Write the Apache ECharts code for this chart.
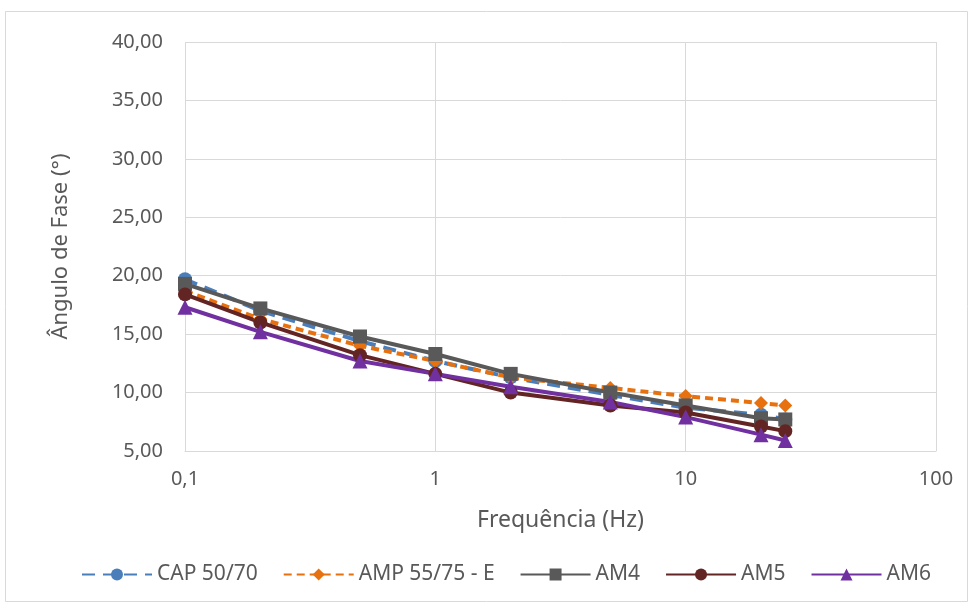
<!DOCTYPE html>
<html>
<head>
<meta charset="utf-8">
<script src="https://cdn.jsdelivr.net/npm/echarts@6/dist/echarts.min.js"></script>
<style>
  html, body { margin: 0; padding: 0; background: #fff; }
  #chart { width: 972px; height: 604px; }
</style>
</head>
<body>
<div id="chart"></div>
<script>
// Frequency sweep (Hz) and phase angle (degrees) for each binder
var frequencies = [0.1, 0.2, 0.5, 1, 2, 5, 10, 20, 25];
var cap5070   = [19.7, 17.0, 14.4, 12.7, 11.3, 9.8, 8.7, 8.1, 7.7];
var amp5575E  = [18.7, 16.3, 14.0, 12.7, 11.3, 10.4, 9.7, 9.1, 8.9];
var am4       = [19.3, 17.2, 14.8, 13.3, 11.6, 10.0, 8.9, 7.8, 7.7];
var am5       = [18.4, 16.0, 13.2, 11.6, 10.0, 8.9, 8.3, 7.1, 6.7];
var am6       = [17.3, 15.2, 12.7, 11.6, 10.5, 9.2, 7.9, 6.4, 5.9];
var seriesNames = ['CAP 50/70', 'AMP 55/75 - E', 'AM4', 'AM5', 'AM6'];

var FONT = "'Noto Sans', 'Open Sans', sans-serif";
var TXT = '#595959';

function pairs(vals) {
  return frequencies.map(function (f, i) { return [f, vals[i]]; });
}

function makeSeries(name, vals, color, symbol, size, lineType) {
  return {
    name: name,
    type: 'line',
    data: pairs(vals),
    symbol: symbol,
    symbolSize: size,
    showSymbol: true,
    itemStyle: { color: color },
    lineStyle: { color: color, width: 4, type: lineType, cap: 'butt' },
    emphasis: { disabled: true },
    animation: false
  };
}

var chart = echarts.init(document.getElementById('chart'));
chart.setOption({
  backgroundColor: '#fff',
  animation: false,
  graphic: [{
    type: 'rect',
    shape: { x: 5.5, y: 11.5, width: 962, height: 590 },
    style: { fill: 'none', stroke: '#d9d9d9', lineWidth: 1 },
    silent: true
  }],
  grid: { left: 185, right: 36, top: 42, bottom: 153 },
  xAxis: {
    type: 'log',
    logBase: 10,
    min: 0.1,
    max: 100,
    name: 'Frequência (Hz)',
    nameLocation: 'middle',
    nameGap: 58,
    nameTextStyle: { color: TXT, fontSize: 23, fontFamily: FONT },
    axisLine: { show: true, lineStyle: { color: '#d9d9d9', width: 1 } },
    axisTick: { show: false },
    splitLine: { show: true, lineStyle: { color: '#d9d9d9', width: 1 } },
    minorTick: { show: false },
    axisLabel: {
      color: TXT, fontSize: 20, fontFamily: FONT, margin: 18,
      formatter: function (v) { return String(+v.toPrecision(6)).replace('.', ','); }
    }
  },
  yAxis: {
    type: 'value',
    min: 5,
    max: 40,
    interval: 5,
    name: 'Ângulo de Fase (°)',
    nameLocation: 'middle',
    nameGap: 113,
    nameRotate: 90,
    nameTextStyle: { color: TXT, fontSize: 22, fontFamily: FONT },
    axisLine: { show: false },
    axisTick: { show: false },
    splitLine: { show: true, lineStyle: { color: '#d9d9d9', width: 1 } },
    axisLabel: {
      color: TXT, fontSize: 20, fontFamily: FONT, margin: 22,
      formatter: function (v) { return v.toFixed(2).replace('.', ','); }
    }
  },
  legend: {
    top: 559,
    left: 76,
    itemWidth: 70,
    itemHeight: 15,
    itemGap: 25,
    textStyle: { color: TXT, fontSize: 21, fontFamily: FONT },
    data: seriesNames
  },
  series: [
    makeSeries(seriesNames[0], cap5070, '#4a7ebb', 'circle', 14, [13, 8]),
    makeSeries(seriesNames[1], amp5575E, '#e8710f', 'diamond', 14, [8, 5]),
    makeSeries(seriesNames[2], am4, '#595959', 'rect', 14, 'solid'),
    makeSeries(seriesNames[3], am5, '#632523', 'circle', 14, 'solid'),
    makeSeries(seriesNames[4], am6, '#7030a0', 'triangle', 15, 'solid')
  ]
});
</script>
</body>
</html>
